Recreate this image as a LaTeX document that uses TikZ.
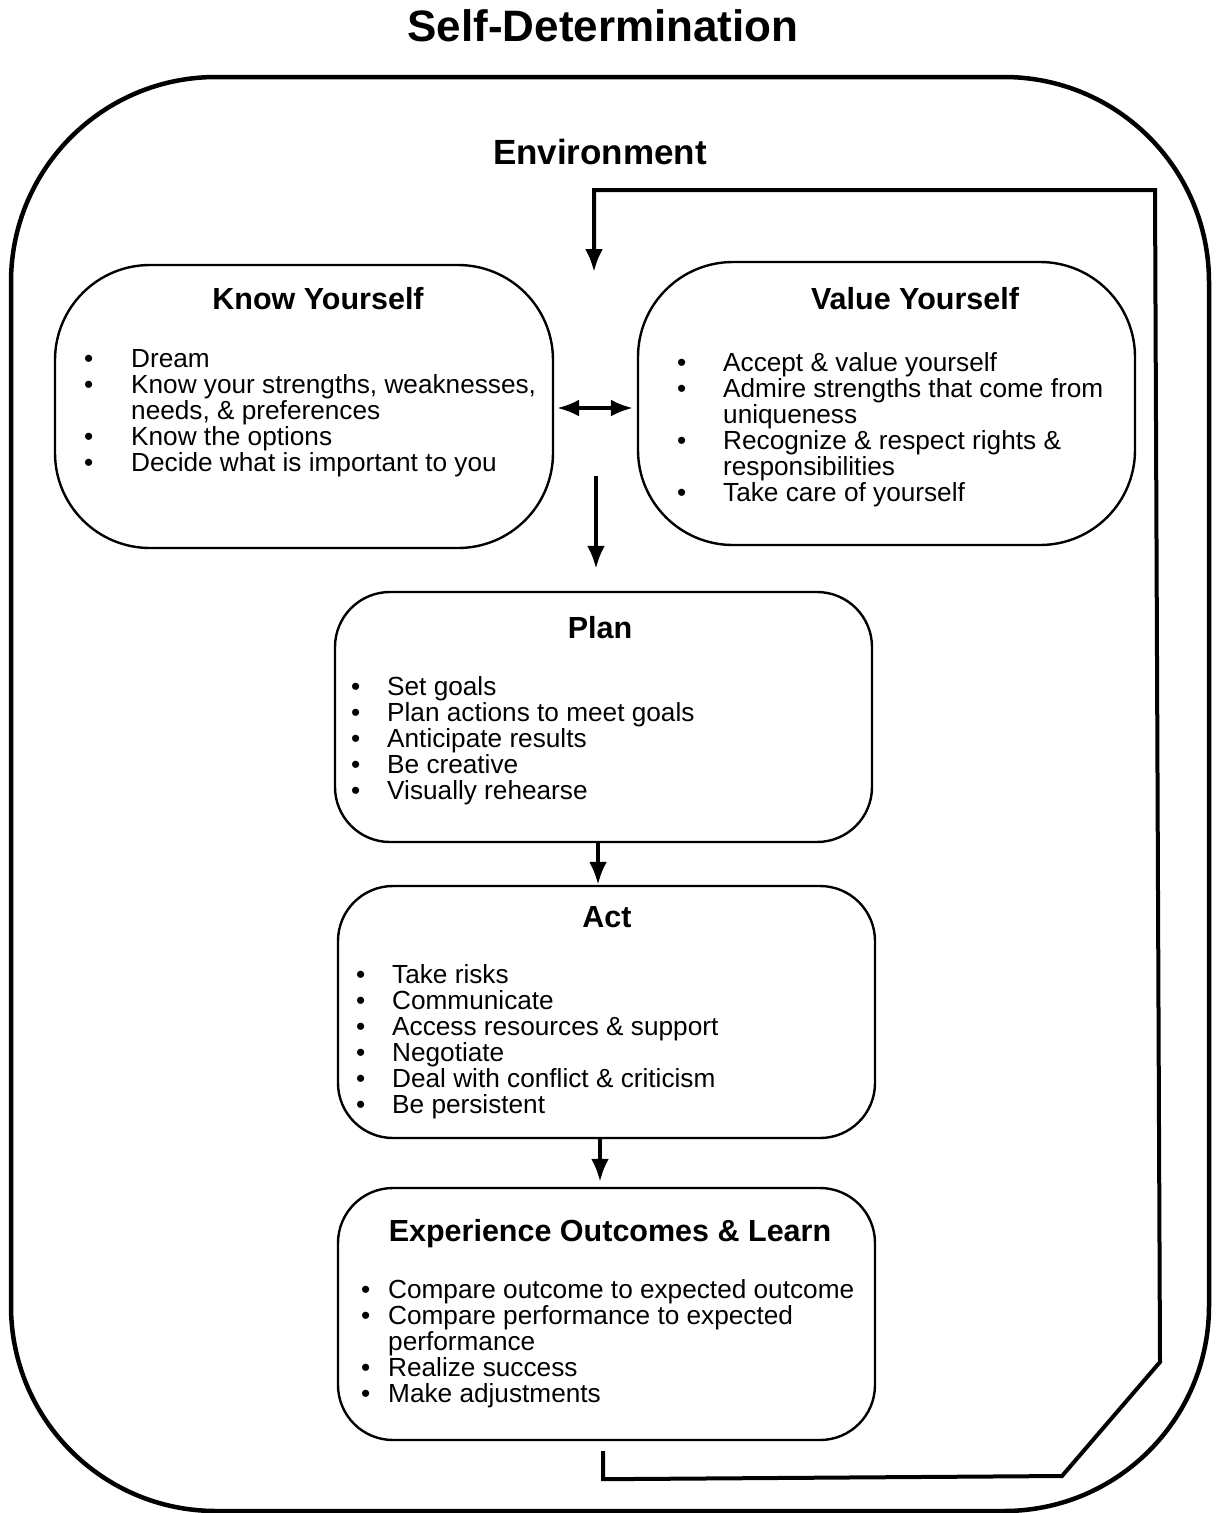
\documentclass[tikz,border=0pt]{standalone}
\usepackage{fontspec}
\setmainfont{Liberation Sans}
\usetikzlibrary{arrows.meta}
% bullet list set as a two-column table: bullet column of width #1 (pt), then the text;
% lines are smashed so the row strut alone fixes the line pitch
\newcommand{\itemtab}[2]{\begin{tabular}{@{}p{#1pt}@{}l@{}}#2\end{tabular}}
\newcommand{\bl}[1]{\textbullet & \smash{#1}\\}
\newcommand{\cl}[1]{ & \smash{#1}\\}
\begin{document}
\begin{tikzpicture}[x=1pt,y=-1pt,
  panel/.style={draw,line width=2.4pt,inner sep=0pt},
  head/.style={font=\fontsize{30.5}{33}\selectfont\bfseries,anchor=base,inner sep=0pt},
  items/.style={font=\fontsize{26.2}{26.1}\selectfont,anchor=north west,inner sep=0pt},
  flow/.style={line width=4pt,-{Latex[length=23pt,width=18pt]}},
  twoway/.style={line width=3.5pt,{Latex[length=22pt,width=17pt]}-{Latex[length=22pt,width=17pt]}},
  feedback/.style={line width=4pt,line join=miter,-{Latex[length=23pt,width=18pt]}}]
\fill[white] (0,0) rectangle (1219,1513);
\useasboundingbox (0,0) rectangle (1219,1513);

% outer environment frame
\draw[line width=4.5pt,rounded corners=205pt] (11,77) rectangle (1209,1511);

\node[font=\fontsize{44}{48}\selectfont\bfseries,anchor=base,inner sep=0pt] (title) at (603,41) {Self-Determination};
\node[font=\fontsize{35}{38}\selectfont\bfseries,anchor=base,inner sep=0pt] (env) at (600,164) {Environment};

% the five stage boxes
\node[panel,minimum width=498pt,minimum height=283pt,rounded corners=95pt] (know) at (304,406.5) {};
\node[panel,minimum width=497pt,minimum height=283pt,rounded corners=95pt] (value) at (886.5,403.5) {};
\node[panel,minimum width=537pt,minimum height=250pt,rounded corners=55pt] (plan) at (603.5,717) {};
\node[panel,minimum width=537pt,minimum height=252pt,rounded corners=55pt] (act) at (606.5,1012) {};
\node[panel,minimum width=537pt,minimum height=252pt,rounded corners=55pt] (exp) at (606.5,1314) {};

% headings
\node[head] (hknow) at (318,309) {Know Yourself};
\node[head] (hvalue) at (915,309) {Value Yourself};
\node[head] (hplan) at (600,638) {Plan};
\node[head] (hact) at (607,927) {Act};
\node[head] (hexp) at (610,1241) {Experience Outcomes \& Learn};

% bullet lists
\node[items] (lknow) at (84,349) {\itemtab{47}{%
\bl{Dream}
\bl{Know your strengths, weaknesses,}
\cl{needs, \& preferences}
\bl{Know the options}
\bl{Decide what is important to you}}};
\node[items] (lvalue) at (677,353) {\itemtab{46}{%
\bl{Accept \& value yourself}
\bl{Admire strengths that come from}
\cl{uniqueness}
\bl{Recognize \& respect rights \&}
\cl{responsibilities}
\bl{Take care of yourself}}};
\node[items] (lplan) at (351,677) {\itemtab{36}{%
\bl{Set goals}
\bl{Plan actions to meet goals}
\bl{Anticipate results}
\bl{Be creative}
\bl{Visually rehearse}}};
\node[items] (lact) at (356,965) {\itemtab{36}{%
\bl{Take risks}
\bl{Communicate}
\bl{Access resources \& support}
\bl{Negotiate}
\bl{Deal with conflict \& criticism}
\bl{Be persistent}}};
\node[items] (lexp) at (361,1280) {\itemtab{27}{%
\bl{Compare outcome to expected outcome}
\bl{Compare performance to expected}
\cl{performance}
\bl{Realize success}
\bl{Make adjustments}}};

% connectors
\coordinate (kv) at ([yshift=-1.5pt]know.east);
\draw[twoway,shorten <=3pt,shorten >=4pt] (kv) -- (kv -| value.west);

\coordinate (split) at (596,476);
\draw[flow,shorten >=22pt] (split) -- (split |- plan.north);

\coordinate (pa) at ([xshift=-5.5pt]plan.south);
\draw[flow] (pa) -- (pa |- act.north);

\coordinate (ae) at ([xshift=-6.5pt]act.south);
\draw[flow,shorten >=5pt] (ae) -- (ae |- exp.north);

% feedback loop back to the top
\coordinate (back) at (594,272);
\draw[feedback] ([shift={(-3.5pt,-10pt)}]exp.south) -- ++(0,28) -- (1062,1476) -- (1160,1362) -- (1155,190) -- (594,190) -- (back);
\end{tikzpicture}
\end{document}
